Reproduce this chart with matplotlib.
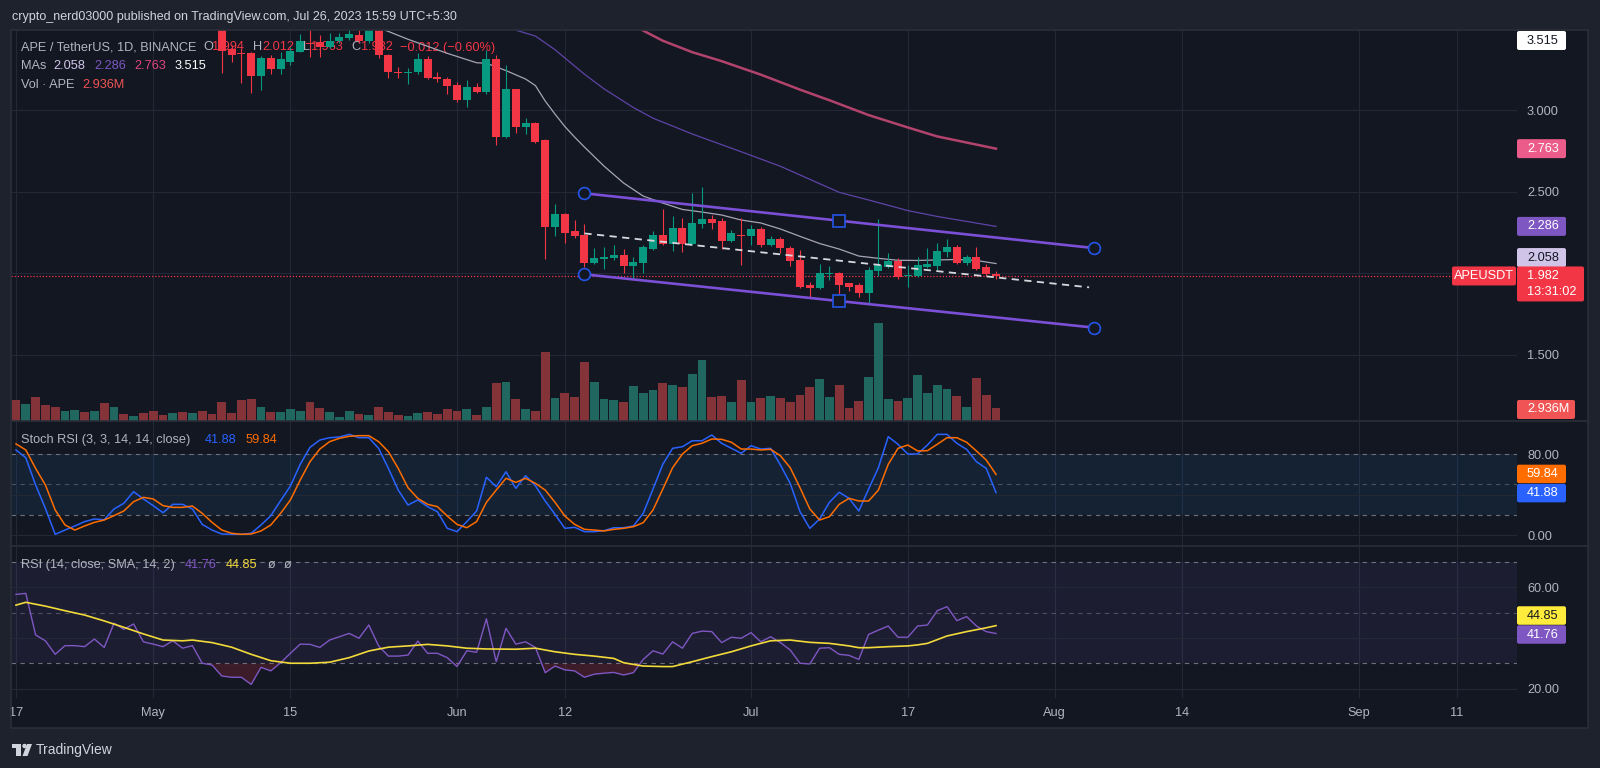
import matplotlib
matplotlib.use("Agg")
import matplotlib.pyplot as plt
import matplotlib.transforms as mtransforms
from matplotlib.patches import Rectangle, FancyBboxPatch, Circle, Polygon
import numpy as np

plt.rcParams['font.family'] = ['Liberation Sans', 'DejaVu Sans']

W, H, DPI = 1600, 768, 100

# ------------------------------------------------------------------ data
# day index 0 = 2023-04-17 (daily candles APE/USDT)
day = list(range(101))
open_ = [4.30, 4.16, 4.22, 4.02, 3.90, 3.82, 3.92, 3.98, 3.90, 3.96,
         3.80, 3.86, 3.82, 3.85, 3.76, 3.70, 3.68, 3.72, 3.66, 3.69,
         3.62, 3.58, 3.373, 3.350, 3.348, 3.211, 3.317, 3.250, 3.297, 3.358,
         3.410, 3.415, 3.389, 3.426, 3.440, 3.460, 3.426, 3.52, 3.337, 3.235,
         3.228, 3.236, 3.311, 3.200, 3.190, 3.153, 3.061, 3.140, 3.113, 3.311,
         2.837, 3.127, 2.894, 2.918, 2.816, 2.284, 2.362, 2.260, 2.233, 2.059,
         2.088, 2.090, 2.110, 2.045, 2.059, 2.146, 2.233, 2.178, 2.274, 2.178,
         2.301, 2.331, 2.321, 2.198, 2.233, 2.227, 2.270, 2.172, 2.209, 2.155,
         2.080, 1.926, 1.906, 1.996, 2.002, 1.937, 1.926, 1.875, 2.014, 2.035,
         2.074, 1.980, 1.982, 2.039, 2.045, 2.127, 2.157, 2.063, 2.100, 2.035,
         1.994]
high = [4.38, 4.28, 4.25, 4.08, 3.96, 3.95, 4.02, 4.00, 3.99, 3.98,
        3.90, 3.88, 3.87, 3.86, 3.79, 3.73, 3.75, 3.74, 3.71, 3.70,
        3.66, 3.62, 3.399, 3.373, 3.355, 3.330, 3.337, 3.358, 3.389, 3.466,
        3.50, 3.46, 3.47, 3.47, 3.50, 3.49, 3.56, 3.55, 3.345, 3.262,
        3.256, 3.352, 3.331, 3.235, 3.200, 3.174, 3.184, 3.164, 3.368, 3.337,
        3.276, 3.130, 2.949, 2.928, 2.820, 2.423, 2.370, 2.325, 2.301, 2.152,
        2.161, 2.172, 2.147, 2.097, 2.170, 2.260, 2.393, 2.350, 2.336, 2.489,
        2.530, 2.356, 2.340, 2.264, 2.336, 2.294, 2.284, 2.227, 2.219, 2.166,
        2.141, 1.947, 2.055, 2.043, 2.008, 1.940, 1.941, 2.035, 2.329, 2.121,
        2.090, 2.049, 2.097, 2.152, 2.186, 2.206, 2.170, 2.110, 2.157, 2.055,
        2.012]
low = [4.12, 4.10, 3.98, 3.86, 3.78, 3.80, 3.88, 3.88, 3.87, 3.76,
       3.77, 3.79, 3.80, 3.74, 3.68, 3.66, 3.66, 3.64, 3.63, 3.60,
       3.56, 3.229, 3.296, 3.164, 3.102, 3.123, 3.221, 3.221, 3.276, 3.356,
       3.327, 3.324, 3.380, 3.410, 3.430, 3.410, 3.410, 3.317, 3.194, 3.194,
       3.160, 3.220, 3.190, 3.174, 3.098, 3.051, 3.016, 3.102, 3.100, 2.785,
       2.830, 2.857, 2.853, 2.800, 2.084, 2.227, 2.182, 2.215, 2.039, 2.055,
       2.023, 2.080, 2.002, 1.971, 2.002, 2.140, 2.170, 2.135, 2.131, 2.170,
       2.274, 2.268, 2.146, 2.190, 2.049, 2.172, 2.158, 2.165, 2.125, 2.043,
       1.905, 1.844, 1.900, 1.957, 1.871, 1.891, 1.855, 1.818, 1.982, 2.030,
       1.962, 1.916, 1.975, 2.030, 2.016, 2.096, 2.055, 2.050, 2.020, 1.980,
       1.963]
close = [4.16, 4.22, 4.02, 3.90, 3.82, 3.92, 3.98, 3.90, 3.96, 3.80,
         3.86, 3.82, 3.85, 3.76, 3.70, 3.68, 3.72, 3.66, 3.69, 3.62,
         3.58, 3.364, 3.339, 3.345, 3.211, 3.317, 3.252, 3.311, 3.364, 3.425,
         3.405, 3.389, 3.426, 3.450, 3.466, 3.425, 3.52, 3.337, 3.235, 3.228,
         3.236, 3.311, 3.194, 3.190, 3.147, 3.061, 3.143, 3.113, 3.311, 2.833,
         3.127, 2.898, 2.918, 2.806, 2.284, 2.362, 2.247, 2.229, 2.059, 2.094,
         2.096, 2.110, 2.045, 2.070, 2.157, 2.233, 2.176, 2.274, 2.178, 2.309,
         2.331, 2.309, 2.198, 2.243, 2.225, 2.270, 2.172, 2.209, 2.152, 2.076,
         1.916, 1.906, 1.998, 2.000, 1.926, 1.916, 1.875, 2.018, 2.049, 2.074,
         1.978, 1.990, 2.049, 2.053, 2.135, 2.157, 2.063, 2.097, 2.025, 1.994,
         1.982]
volume_m = [4.74, 3.77, 5.35, 3.61, 3.09, 2.26, 2.48, 1.96, 2.26, 4.00,
            3.09, 1.51, 1.13, 1.74, 2.33, 1.35, 1.74, 2.10, 1.74, 2.26,
            1.58, 4.36, 1.74, 4.74, 4.97, 3.09, 1.96, 2.10, 2.71, 2.33,
            4.22, 3.00, 1.96, 0.97, 2.26, 1.58, 1.35, 3.09, 1.96, 1.35,
            1.20, 1.74, 2.10, 1.58, 2.64, 2.26, 2.64, 1.35, 3.23, 8.65,
            8.87, 4.97, 2.71, 2.33, 15.65, 5.26, 6.39, 5.35, 13.32, 8.87,
            5.04, 4.74, 4.22, 7.84, 6.25, 7.00, 8.65, 8.13, 7.61, 10.61,
            13.77, 5.35, 5.65, 4.22, 9.26, 4.36, 5.19, 5.65, 5.19, 4.22,
            5.87, 7.61, 9.42, 5.35, 8.06, 3.00, 4.58, 10.00, 22.06, 5.04,
            4.45, 5.26, 10.39, 6.25, 8.13, 7.29, 5.71, 3.09, 9.64, 5.87,
            2.936]

ma_gray_day = [36, 40, 44, 47, 48, 50, 52, 53, 54, 55, 56, 57, 58, 60, 62, 64, 66,
               68, 70, 72, 74, 76, 78, 80, 82, 84, 86, 88, 90, 92, 94, 96, 98, 100]
ma_gray = [3.53, 3.434, 3.348, 3.29, 3.287, 3.242, 3.19, 3.15, 3.055, 2.975, 2.899,
           2.834, 2.773, 2.656, 2.552, 2.472, 2.429, 2.39, 2.374, 2.356, 2.325,
           2.307, 2.27, 2.225, 2.181, 2.147, 2.104, 2.090, 2.078, 2.077, 2.080,
           2.083, 2.077, 2.058]
ma_purple_day = [50, 51, 53, 55, 58, 60, 63, 65, 69, 74, 78, 82, 84, 87, 91, 94, 100]
ma_purple = [3.53, 3.49, 3.454, 3.37, 3.22, 3.13, 3.015, 2.95, 2.853, 2.744, 2.655,
             2.548, 2.495, 2.448, 2.383, 2.347, 2.286]
ma_pink_day = [62, 66, 69, 72, 76, 80, 83, 87, 91, 94, 100]
ma_pink = [3.55, 3.425, 3.355, 3.30, 3.217, 3.125, 3.06, 2.969, 2.893, 2.838, 2.763]
ma_last = ["2.058", "2.286", "2.763", "3.515"]

stoch_k = [84, 76.3, 49.4, 26.3, 0.7, 4.9, 8.9, 13.2, 15.8, 15.1,
           25.7, 31.3, 42.8, 35.6, 29, 22, 30.3, 30.3, 25.7, 10.5,
           4.9, 1, 0.7, 0.7, 1.7, 9.9, 19.1, 33.9, 48.4, 69.8,
           86.6, 93.8, 96.1, 96.8, 99.4, 96.1, 96.1, 85.6, 65.8, 44.4,
           29.6, 34.6, 28, 23, 6.6, 3.3, 13.2, 23.7, 57, 47.7,
           62.5, 46.1, 58.6, 48.7, 33.6, 20.4, 6.6, 7.6, 3.3, 3.3,
           4.3, 7.2, 7.2, 8.9, 21.4, 45.4, 69.8, 85.6, 87.2, 93.1,
           93.1, 98.8, 90.6, 85.6, 80.7, 88.2, 84.9, 85.6, 69.1, 51,
           23, 6.6, 15.8, 32.3, 42.2, 36.2, 23.7, 45.4, 66.5, 97.1,
           89.6, 80, 80, 88.9, 99.4, 99.4, 90.6, 84.6, 72.4, 65.8,
           41.88]
stoch_d = [90, 84, 65.8, 49.4, 24.7, 9.9, 4.9, 8.9, 12.5, 14.8,
           19.1, 23.7, 32.9, 37.2, 35.6, 29, 27.3, 27.3, 28.6, 21.4,
           12.5, 4.9, 1.7, 0.7, 1, 4, 9.9, 21.4, 34.6, 54.3,
           72.4, 84.9, 92.2, 95.5, 97.5, 98.1, 98.1, 92.2, 82.3, 65.8,
           46.7, 36.2, 30.3, 28, 18.8, 10.5, 7.2, 13.2, 32.3, 44.4,
           56, 52, 56, 51, 44.4, 32.3, 18.8, 10.5, 5.6, 4.9,
           4, 5.6, 6.6, 8.2, 12.2, 24.7, 45.4, 66.5, 80, 88.2,
           90.6, 94.8, 94.5, 91.6, 84.9, 84.9, 84, 84.6, 78.3, 66.5,
           46.7, 25.7, 14.8, 18.1, 30.3, 36.2, 33.6, 33.6, 44.4, 69.8,
           85.6, 88.9, 83, 83.3, 89.6, 96.1, 96.1, 91.6, 83, 74.1,
           59.84]
rsi = [57.1, 57.5, 41.2, 38.9, 33.6, 37, 37, 36.6, 39.6, 36.3,
       45.8, 43.4, 45.5, 38.5, 37.6, 36.6, 38.9, 36, 37, 30.1,
       29.4, 25.1, 24.6, 24.6, 21.8, 28.5, 27.1, 30.3, 34, 37.6,
       37.5, 36.3, 39.2, 40.5, 41.8, 39.9, 45.1, 36.9, 32.9, 32.9,
       33.3, 38.8, 34, 34, 32.3, 28.8, 35, 34.4, 47.5, 30.7,
       43.8, 37.6, 38.5, 36.3, 26.4, 29, 27.5, 27.1, 24.6, 25.8,
       26.2, 26.5, 25.5, 26.4, 31.6, 35, 33.7, 38.5, 36, 41.8,
       42.7, 42.5, 38.2, 40.3, 39.9, 42.1, 38.5, 40.5, 38.2, 35.3,
       30.1, 29.8, 36, 36.2, 33.6, 33.2, 31.6, 41.4, 43.1, 44.7,
       40.3, 40.3, 44.7, 45.1, 50.7, 52.3, 46.8, 48.4, 44.7, 42.5,
       41.76]
rsi_ma_day = [0, 1, 3, 5, 7, 9, 11, 13, 15, 17, 18, 20, 22, 24, 26, 28, 30, 32, 34,
              36, 38, 40, 42, 44, 46, 48, 51, 53, 55, 57, 59, 61, 62, 64, 66, 67,
              69, 71, 73, 75, 77, 79, 81, 83, 85, 86, 87, 89, 91, 92, 93, 95, 97,
              99, 100]
rsi_ma = [52.9, 54, 52.5, 50.7, 49, 46.7, 44.2, 41.6, 39.2, 38.9, 39.2, 38.2, 36.4,
          33.6, 31.1, 30.1, 30.1, 30.5, 32.3, 34.9, 36.4, 36.9, 37.5, 36.9, 36,
          35.7, 35.6, 36, 34.6, 33.6, 32.9, 32, 30.3, 29, 28.8, 28.8, 30.7, 32.7,
          34.6, 36.9, 38.9, 39.2, 38.3, 37.9, 36.9, 36.2, 36.2, 36.6, 36.9, 37.3,
          37.9, 40.8, 42.5, 44, 44.85]

channel_day = [58, 84, 110]
channel_upper = [2.489, 2.321, 2.153]
channel_lower = [1.992, 1.828, 1.665]
trend_day = [58, 109.5]
trend_price = [2.243, 1.912]
last_price = 1.982

tick_day = [0, 14, 28, 45, 56, 75, 91, 106, 119, 137, 147]
tick_label = ["17", "May", "15", "Jun", "12", "Jul", "17", "Aug", "14", "Sep", "11"]
price_ticks = [1.5, 2.5, 3.0]
price_tick_labels = ["1.500", "2.500", "3.000"]
price_grid = [1.5, 2.0, 2.5, 3.0]

# ------------------------------------------------------------------ style
BG = '#131722'
OUT = '#1e222d'
GRID = '#232835'
BORDER = '#2a2e39'
TXT = '#b2b5be'
UP = '#089981'
DN = '#f23645'
VUP = '#1f675f'
VDN = '#843339'
FS = 9.2

fig = plt.figure(figsize=(W / DPI, H / DPI), dpi=DPI, facecolor=OUT)
PX = mtransforms.Affine2D().scale(1 / DPI, -1 / DPI).translate(0, H / DPI) + fig.dpi_scale_trans


def rect(x0, y0, x1, y1):
    return [x0 / W, 1 - y1 / H, (x1 - x0) / W, (y1 - y0) / H]


# background frame
bgax = fig.add_axes([0, 0, 1, 1], zorder=-5)
bgax.set_xlim(0, W); bgax.set_ylim(H, 0); bgax.axis('off')
bgax.add_patch(Rectangle((11, 30), 1577, 698, fc=BG, ec='none'))

PL, PR = 11, 1517
ax = fig.add_axes(rect(PL, 30, PR, 421))
axs = fig.add_axes(rect(PL, 421, PR, 546))
axr = fig.add_axes(rect(PL, 546, PR, 698))

# volume overlay (twin of the price pane)
axv = ax.twinx()

XL = (-0.51, 153.16)
for a in (ax, axs, axr):
    a.set_facecolor(BG)
    a.set_xlim(*XL)
    for s in a.spines.values():
        s.set_visible(False)
    a.yaxis.tick_right()
    a.tick_params(axis='y', length=0, pad=7.2, labelcolor=TXT, labelsize=FS,
                  labelright=True, labelleft=False)
    a.tick_params(axis='x', length=0)
    for d in tick_day:
        a.axvline(d, color=GRID, lw=0.8, zorder=0)

ax.set_ylim(1.092, 3.491)
axs.set_ylim(-10.86, 112.6)
axr.set_ylim(16.47, 76.08)

# ---- main pane
for g in price_grid:
    ax.axhline(g, color=GRID, lw=0.8, zorder=0)
ax.set_yticks(price_ticks, price_tick_labels)
ax.set_xticks([])

o = np.array(open_); c = np.array(close); hi = np.array(high); lo = np.array(low)
dd = np.array(day)
up = c >= o
col = np.where(up, UP, DN)
body_lo = np.minimum(o, c)
body_h = np.maximum(np.abs(c - o), 0.006)
ax.vlines(dd, lo, hi, colors=col, lw=0.8, zorder=3)
ax.bar(dd, body_h, bottom=body_lo, width=0.82, color=col, zorder=4, linewidth=0)

ax.plot(ma_gray_day, ma_gray, color='#a7a4b6', lw=0.9, zorder=2)
ax.plot(ma_purple_day, ma_purple, color='#5e43a6', lw=0.9, zorder=2)
ax.plot(ma_pink_day, ma_pink, color='#b2436c', lw=1.8, zorder=2)

ax.axhline(last_price, color=DN, lw=0.9, ls=(0, (1, 1.5)), zorder=2)

ax.plot(trend_day, trend_price, color='#d6d8de', lw=1.3, ls=(0, (4, 3)), zorder=5)
ax.plot(channel_day, channel_upper, color='#7b4fd6', lw=1.9, zorder=5)
ax.plot(channel_day, channel_lower, color='#7b4fd6', lw=1.9, zorder=5)
for i, mk in enumerate(['o', 's', 'o']):
    for arr in (channel_upper, channel_lower):
        ax.plot(channel_day[i], arr[i], marker=mk, ms=8.5, mfc=BG, mec='#2455e8',
                mew=1.2, zorder=6, clip_on=False)

axv.set_ylim(0, 88.3)
axv.set_xlim(*XL)
axv.set_axis_off()
vcol = np.where(up, VUP, VDN)
axv.bar(dd, volume_m, width=0.9, color=vcol, linewidth=0, zorder=1)

# ---- stoch pane
axs.axhspan(20, 80, color='#2196f3', alpha=0.09, lw=0, zorder=0)
for g in (0, 40, 80):
    axs.axhline(g, color=GRID, lw=0.8, zorder=0)
for g in (80, 50, 20):
    axs.axhline(g, color='#787b86', lw=0.8, ls=(0, (4, 4)), zorder=1,
                alpha=0.55 if g == 50 else 0.9)
axs.set_yticks([0, 80], ["0.00", "80.00"])
axs.set_xticks([])
axs.plot(day, stoch_k, color='#2962ff', lw=1.1, zorder=3)
axs.plot(day, stoch_d, color='#ff6d00', lw=1.1, zorder=3)

# ---- RSI pane
axr.axhspan(30, 70, color='#7e57c2', alpha=0.1, lw=0, zorder=0)
for g in (20, 40, 60):
    axr.axhline(g, color=GRID, lw=0.8, zorder=0)
for g in (70, 50, 30):
    axr.axhline(g, color='#787b86', lw=0.8, ls=(0, (4, 4)), zorder=1,
                alpha=0.55 if g == 50 else 0.9)
rr = np.array(rsi)
axr.fill_between(day, rr, 30, where=rr < 30, interpolate=True, color='#f23645',
                 alpha=0.18, lw=0, zorder=1)
axr.plot(day, rsi, color='#7e57c2', lw=1.0, zorder=3)
axr.plot(rsi_ma_day, rsi_ma, color='#f2da3a', lw=1.2, zorder=3)
axr.set_yticks([20, 60], ["20.00", "60.00"])
axr.set_xticks(tick_day, tick_label)
axr.tick_params(axis='x', pad=6.5, labelcolor=TXT, labelsize=FS)

# ------------------------------------------------------------------ legends
def t(a, x, y, s, color=TXT, **kw):
    a.text(x, y, s, transform=PX, color=color, fontsize=FS, va='center', ha='left',
           zorder=1, **kw)

t(ax, 21, 47.5, "APE / TetherUS, 1D, BINANCE")
t(ax, 203, 47.5, "O"); t(ax, 212, 47.5, "1.994", DN)
t(ax, 253.5, 47.5, "H"); t(ax, 262.5, 47.5, "2.012", DN)
t(ax, 303.5, 47.5, "L"); t(ax, 310.5, 47.5, "1.963", DN)
t(ax, 351.5, 47.5, "C"); t(ax, 360.5, 47.5, "1.982", DN)
t(ax, 400, 47.5, "\u22120.012 (\u22120.60%)", DN)
t(ax, 21, 66, "MAs")
for xx, s, cc in zip([53, 94, 134, 175], ma_last, ['#d1c4e9', '#7e57c2', '#e2447f', '#ffffff']):
    t(ax, xx, 66, s, cc)
t(ax, 21, 85, "Vol \u00b7 APE"); t(ax, 82, 85, "2.936M", '#f05455')

t(axs, 21, 440, "Stoch RSI (3, 3, 14, 14, close)")
t(axs, 205, 440, "41.88", '#2962ff'); t(axs, 246, 440, "59.84", '#ff6d00')
t(axr, 21, 565, "RSI (14, close, SMA, 14, 2)")
t(axr, 185, 565, "41.76", '#7e57c2'); t(axr, 226, 565, "44.85", '#f2da3a')
t(axr, 268, 565, "\u00f8"); t(axr, 284, 565, "\u00f8")

fig.text(12, 17, "crypto_nerd03000 published on TradingView.com, Jul 26, 2023 15:59 UTC+5:30",
         transform=PX, color='#d1d4dc', fontsize=9.0, va='center', ha='left')

# ------------------------------------------------------------------ overlay (labels)
ov = fig.add_axes([0, 0, 1, 1], zorder=20)
ov.set_xlim(0, W); ov.set_ylim(H, 0); ov.axis('off')


def ypix(a, v):
    return H - a.transData.transform((0, v))[1]


def box(x0, yc, w, h, fc, lines, tc='#ffffff', ha='left', tx=None):
    ov.add_patch(FancyBboxPatch((x0, yc - h / 2), w, h, boxstyle='round,pad=0,rounding_size=2',
                                fc=fc, ec='none'))
    n = len(lines)
    for k, s in enumerate(lines):
        yy = yc + (k - (n - 1) / 2) * 16
        ov.text(tx if tx is not None else x0 + 10, yy, s, color=tc, fontsize=FS,
                va='center', ha=ha)

BX = 1517
box(BX, max(ypix(ax, 3.515), 40.5), 49, 19, '#ffffff', ["3.515"], '#131722')
box(BX, ypix(ax, 2.763), 49, 19, '#ec5c8b', ["2.763"])
box(BX, ypix(ax, 2.286), 49, 19, '#7e57c2', ["2.286"])
box(BX, ypix(ax, 2.058) - 6, 49, 19, '#d1c4e9', ["2.058"], '#131722')
yl = ypix(ax, last_price)
box(BX, yl + 8, 67, 35, DN, ["1.982", "13:31:02"])
box(1452, yl, 64, 19, DN, ["APEUSDT"], tx=1484, ha='center')
box(BX, ypix(axv, 2.936) + 1.5, 58, 19, '#f05455', ["2.936M"])
box(BX, ypix(axs, 59.84) - 0.5, 49, 18.5, '#ff6d00', ["59.84"])
box(BX, ypix(axs, 41.88) + 0.5, 49, 18.5, '#2962ff', ["41.88"])
y41 = ypix(axr, 41.76) + 1
box(BX, y41, 49, 18.5, '#7e57c2', ["41.76"])
box(BX, y41 - 19, 49, 18.5, '#ffeb3b', ["44.85"], '#131722')

# pane separators and frame
for yy in (421, 546):
    ov.plot([11, 1588], [yy, yy], color=BORDER, lw=1.2)
ov.add_patch(Rectangle((11, 30), 1577, 698, fc='none', ec=BORDER, lw=1.2))

# TradingView logo
ov.add_patch(Rectangle((12, 744), 9, 4, fc='#d1d4dc', ec='none'))
ov.add_patch(Rectangle((16, 744), 5, 12, fc='#d1d4dc', ec='none'))
ov.add_patch(Circle((24.5, 746), 2.2, fc='#d1d4dc', ec='none'))
ov.add_patch(Polygon([(27, 744), (32, 744), (27.5, 756), (22.5, 756)], closed=True,
                     fc='#d1d4dc', ec='none'))
ov.text(36, 750, "TradingView", color='#d1d4dc', fontsize=10, va='center', ha='left')

fig.savefig("out.png", dpi=DPI, facecolor=OUT)
